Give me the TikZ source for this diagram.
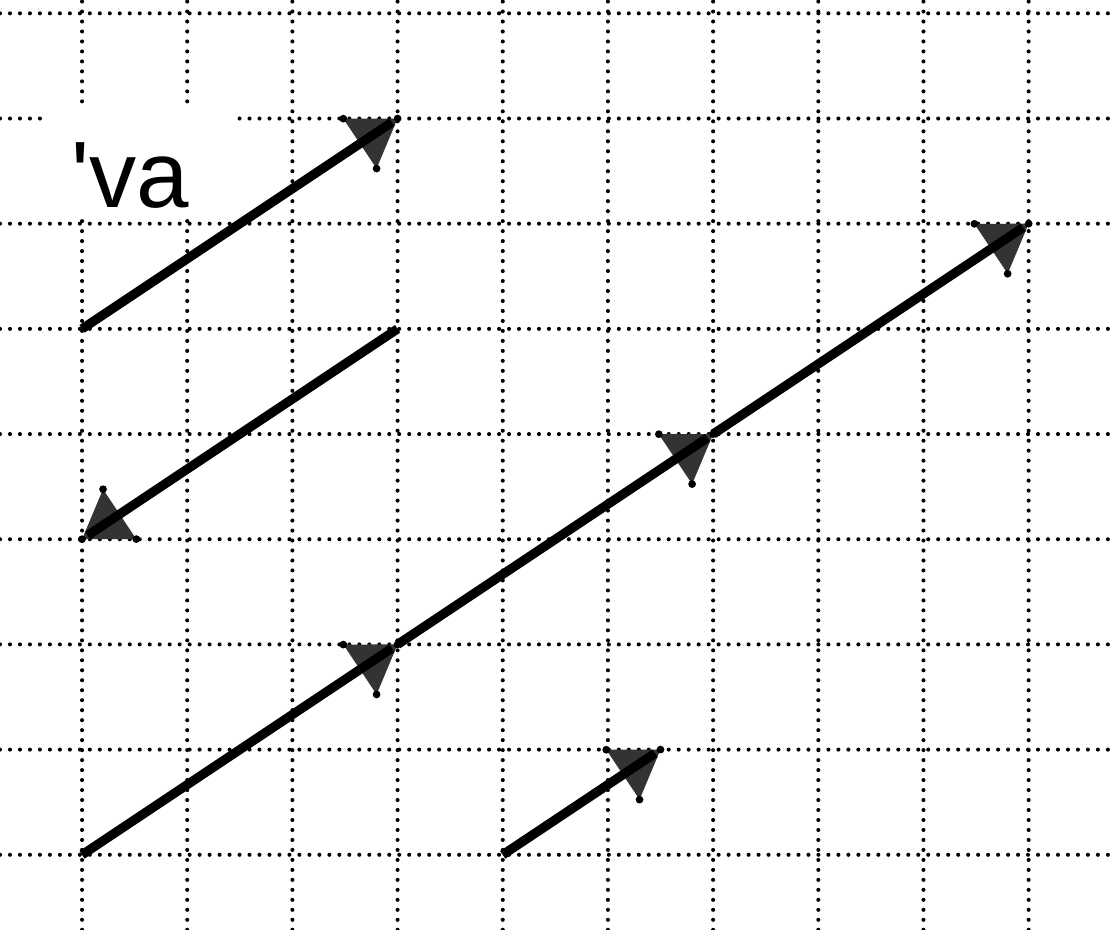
\documentclass[tikz,border=0pt]{standalone}
\usepackage{fontspec}
\newfontfamily\labelfont[Ligatures=TeXOff]{Liberation Sans}
\usetikzlibrary{calc}

% arrow head of a vector from #1 to #2
\newcommand{\vectip}[2]{%
  \coordinate (back) at ($(#2)!0.43cm!(#1)$);
  \coordinate (cl) at ($(back)!0.285cm!90:(#2)$);
  \coordinate (cr) at ($(back)!0.285cm!-90:(#2)$);
  \fill[tipfill] (#2) -- (cl) -- (cr) -- cycle;
  \foreach \c in {#2,cl,cr} \fill (\c) circle (1.05pt);
}
\newcommand{\vecline}[2]{%
  \vectip{#1}{#2}
  \draw[vec] (#1) -- (#2);
}

\begin{document}
\begin{tikzpicture}[
        gridline/.style={line width=1.1pt, line cap=round, dash pattern=on 0pt off 2.7pt, black},
        vec/.style={line width=2.5pt, shorten >=1.8pt},
        tipfill/.style={fill=black!80}
    ]
    \useasboundingbox (-0.78,-0.713) rectangle (9.84,8.127);
    \draw[gridline] (-0.78,-0.713) grid (9.84,8.127);

    % label
    \fill[white] (-0.35,6.06) rectangle (1.47,7.13);
    \node[anchor=base west, inner sep=0pt, font=\labelfont\fontsize{25.5}{30}\selectfont] (lbl) at (-0.11,6.15) {'va};

    % points
    \coordinate (p0) at (0,0);
    \coordinate (p1) at (3,2);
    \coordinate (p2) at (6,4);
    \coordinate (p3) at (9,6);
    \coordinate (a0) at (0,5);
    \coordinate (a1) at (3,7);
    \coordinate (b0) at (3,5);
    \coordinate (b1) at (0,3);
    \coordinate (c0) at (4,0);
    \coordinate (c1) at (5.5,1);

    % vectors
    \vecline{a0}{a1}
    \vecline{b0}{b1}
    \vecline{p0}{p1}
    \vecline{p1}{p2}
    \vecline{p2}{p3}
    \vecline{c0}{c1}
\end{tikzpicture}
\end{document}
